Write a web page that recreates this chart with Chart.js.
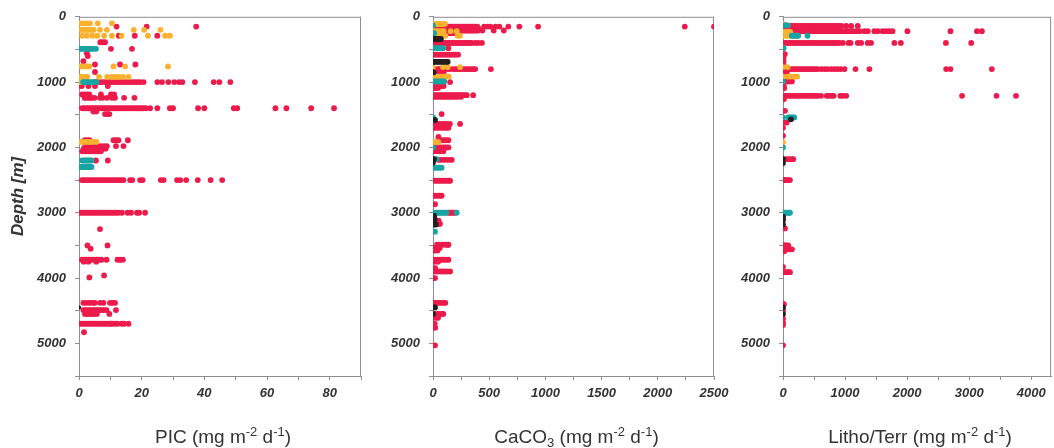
<!DOCTYPE html>
<html>
<head>
<meta charset="utf-8">
<title>Particle flux versus depth</title>
<script src="https://cdn.jsdelivr.net/npm/chart.js@4.4.1/dist/chart.umd.min.js"></script>
<style>
  html, body { margin: 0; padding: 0; background: #ffffff; }
  #wrap { position: relative; width: 1054px; height: 448px; overflow: hidden; }
  #wrap canvas { position: absolute; left: 0; top: 0; }
</style>
</head>
<body>
<div id="wrap">
  <canvas id="picChart" width="1054" height="448"></canvas>
  <canvas id="caco3Chart" width="1054" height="448"></canvas>
  <canvas id="lithoChart" width="1054" height="448"></canvas>
</div>
<script>
// ---- Rows of [depth (m), [flux values (mg m-2 d-1) measured at that depth]] ----

// PIC
const picRed = [
  [150, [12, 21.6, 37.4]],
  [290, [12.7, 17.8, 25]],
  [390, [6.8, 7.5, 8.3]],
  [490, [10.2, 16.9]],
  [560, [2.5]],
  [600, [2.8]],
  [680, [1.4]],
  [730, [5.1, 13.1, 18]],
  [845, [5.1]],
  [1000, [5, 5.8, 6.6, 7.4, 8.2, 9, 9.8, 10.6, 11.4, 12.2, 13, 13.8, 14.6, 15.4, 16.2, 17, 17.8, 18.6, 19.5, 20.6, 25, 26.5, 28.5, 30.4, 31.9, 33, 37, 43, 44.8, 48.3]],
  [1060, [0, 0.9, 3, 5.1, 9.2]],
  [1190, [1, 1.8, 2.6, 3.3, 7, 10.2, 11.2]],
  [1240, [1.8, 2.4, 3, 3.6, 4.2, 5, 6.7, 7.5, 8.9, 10.5, 11.5, 14.4, 17.7]],
  [1400, [0.9, 1.6, 2.3, 3, 3.7, 4.4, 5.1, 5.8, 6.5, 7.2, 7.9, 8.6, 9.3, 10, 10.7, 11.4, 12.1, 12.8, 13.5, 14.2, 14.9, 15.6, 16.3, 17, 17.7, 18.4, 19.1, 19.8, 20.5, 21.3, 22.7, 25, 29, 30, 38, 40, 49.4, 50.5, 62.7, 66.2, 74.1, 81.4]],
  [1450, [4.6, 5.5]],
  [1490, [8.3, 9, 9.7]],
  [1890, [1.8, 2.6, 3.4, 11, 11.8, 12.6, 15.6]],
  [1980, [2, 3, 4, 5, 6, 7, 8, 8.9, 11.8, 14.2]],
  [2020, [1.5, 2.5, 3.5, 4.5, 5.5, 6.5, 7.5, 8.5]],
  [2060, [1, 2, 3, 4, 5, 6, 7]],
  [2200, [5.4, 9.2]],
  [2500, [0.9, 1.6, 2.3, 3, 3.7, 4.4, 5.1, 5.8, 6.5, 7.2, 7.9, 8.6, 9.3, 10, 10.7, 11.4, 12.1, 12.8, 13.5, 14.2, 16.3, 17, 19.5, 20.3, 26.1, 27, 31.3, 32.3, 34.2, 37.9, 42, 45.7]],
  [3000, [0, 0.7, 1.4, 2.1, 2.8, 3.5, 4.2, 4.9, 5.6, 6.3, 7, 7.7, 8.4, 9.1, 9.8, 10.5, 11.2, 11.9, 12.6, 13.7, 15.5, 16.6, 18.5, 19.2, 21.1]],
  [3250, [6.7]],
  [3500, [2.7, 9.1]],
  [3550, [3.7]],
  [3720, [0.9, 1.6, 2.3, 3, 3.7, 4.4, 5.1, 5.8, 6.5, 7.2, 8.8, 12.3, 13.1, 14]],
  [3750, [1.5, 3, 5.5]],
  [3960, [8]],
  [3990, [3.3]],
  [4380, [1.4, 2.2, 3, 3.8, 4.6, 5.1, 6.7, 7.8, 9.9, 10.7, 11.5]],
  [4490, [1.4, 2, 2.6, 3.2, 3.8, 4.4, 5, 5.6, 6.2, 6.8, 7.4, 8, 8.8, 11.8]],
  [4550, [1.9, 2.5, 3.1, 3.8, 4.5, 5.1, 5.7, 9.7]],
  [4700, [0.3, 1, 1.7, 2.4, 3.1, 3.8, 4.5, 5.2, 5.9, 6.6, 7.3, 8, 8.7, 9.4, 10.1, 10.5, 11.5, 12.3, 13.6, 14.4, 15.8]],
  [4830, [1.6]]
];
const picOrange = [
  [100, [0.5, 1.5, 2.5, 3.5, 6, 10.5]],
  [200, [0.3, 0.9, 1.5, 2.1, 2.7, 3.3, 4, 4.7, 6.7, 8.9, 17.5, 20.8, 26]],
  [290, [1, 2.5, 4.2, 5.8, 8, 10.5, 13.6, 22, 27.5, 29]],
  [760, [0.6, 1.5, 2.5, 3.3, 11, 14.7, 28.4]],
  [920, [0.5, 1.2, 1.9, 2.6, 6.4, 9, 10.5, 11.5, 12.6, 14, 15.8]],
  [1000, [0, 0.6]],
  [1915, [0, 0.6, 1.2, 1.8, 2.4, 3, 3.6, 4.2, 4.8, 5.6]]
];
const picTeal = [
  [490, [0, 0.5, 1, 1.5, 2, 2.5, 3, 3.5, 4, 4.5, 5.4]],
  [1000, [1.3, 1.9, 2.5, 3.1, 3.7, 4.3, 4.9, 5.6]],
  [2200, [0.9, 1.5, 2, 2.5, 3, 3.5, 4]],
  [2300, [0, 0.5, 1, 1.5, 2, 2.5, 3, 3.5, 4]]
];
const picBlack = [
  [4450, [0]]
];

// CaCO3
const caco3Red = [
  [150, [20, 35, 50, 65, 80, 95, 110, 125, 140, 155, 170, 185, 200, 215, 230, 245, 260, 275, 290, 305, 320, 335, 350, 365, 380, 395, 455, 485, 510, 555, 590, 670, 768, 935, 2240, 2500]],
  [180, [15, 30, 45, 60, 75, 90, 105, 120, 135, 150, 165, 180, 195, 210, 225, 240, 255, 270, 285, 300, 315, 330, 345, 360, 375, 390, 405]],
  [210, [10, 25, 40, 55, 70, 85, 100, 115, 130, 145, 160, 175, 190, 205, 220, 235, 250, 265, 280, 295, 310, 325, 340, 355, 370, 385, 400, 440, 540, 630]],
  [250, [100, 120, 140, 160, 180]],
  [400, [0, 15, 30, 45, 60, 75, 90, 105, 120, 135, 150, 165, 180, 195, 210, 225, 240, 255, 270, 285, 300, 315, 330, 342, 375, 402, 435]],
  [480, [137]],
  [580, [0, 20, 40, 60, 80, 100, 120, 140, 160, 180, 200, 223]],
  [800, [20, 40, 60, 75, 100, 125, 150, 180, 200, 220, 240, 260, 280, 300, 320, 340, 360, 375, 515]],
  [850, [20, 45, 70, 95]],
  [1000, [152]],
  [1060, [0, 15, 30, 45, 60, 80, 95]],
  [1090, [5, 25, 45]],
  [1200, [0, 15, 30, 45, 60, 75, 90, 105, 120, 135, 150, 165, 180, 195, 210, 225, 240, 255, 270, 285, 300, 357]],
  [1225, [0, 20, 40, 60, 80, 100, 120, 140, 160, 180, 200, 220, 250]],
  [1490, [77]],
  [1640, [0, 20, 40, 60, 80, 100, 120, 150, 241]],
  [1700, [0, 20, 40, 60, 80, 100, 120, 137]],
  [1840, [48]],
  [1890, [48, 70, 95, 115, 137]],
  [2000, [18, 40, 60, 80, 100, 120, 137]],
  [2060, [0, 30, 60, 92]],
  [2190, [48, 70, 95, 120, 145, 167]],
  [2510, [0, 20, 40, 60, 80, 100, 120, 140, 152]],
  [2740, [0, 20, 40, 60, 77]],
  [2870, [18]],
  [3000, [0, 137, 150, 165, 180, 196]],
  [3120, [20, 35, 50]],
  [3170, [40, 55, 62]],
  [3490, [36, 60, 85, 110, 130, 137]],
  [3540, [0, 20, 40, 60]],
  [3580, [15, 40]],
  [3720, [18, 40, 60, 80, 100, 120, 137]],
  [3750, [5, 25, 45]],
  [3850, [0, 20]],
  [3900, [18, 45, 70, 95, 120, 152]],
  [4000, [0, 18]],
  [4380, [0, 20, 40, 60, 80, 95, 110]],
  [4550, [18, 40, 60, 80, 92]],
  [4610, [0, 25, 45]],
  [4700, [0, 15]],
  [4760, [5, 20]],
  [5030, [18]]
];
const caco3Orange = [
  [110, [0, 15, 30, 45, 60, 75, 90, 105]],
  [220, [0, 20, 40, 60, 80, 95, 158, 211]],
  [290, [30, 50, 70, 90, 110, 220, 240]],
  [770, [0, 89, 131, 241]],
  [915, [0, 15, 30, 45, 60, 75, 90, 105, 120, 140]],
  [1920, [0, 15, 30, 48]]
];
const caco3Teal = [
  [130, [0]],
  [250, [0, 10]],
  [480, [0, 15, 30, 45, 60, 75, 90]],
  [990, [0, 15, 30, 45, 60, 75, 90, 100]],
  [1540, [0]],
  [2000, [0]],
  [2180, [33]],
  [2310, [0, 15, 30, 45, 60, 77]],
  [3000, [15, 30, 45, 60, 75, 90, 105, 120, 211]],
  [3290, [18]]
];
const caco3Black = [
  [340, [0, 10, 20, 30, 40, 50, 62, 70]],
  [690, [0, 15, 30, 45, 60, 75, 90, 105, 120, 131]],
  [850, [0, 5]],
  [1580, [18]],
  [2180, [0, 8]],
  [2230, [0]],
  [3050, [0, 10]],
  [3100, [5, 15]],
  [3180, [10, 25]],
  [4450, [0, 18]],
  [4550, [0]]
];

// Litho/Terr
const lithoRed = [
  [140, [60, 95, 130, 165, 200, 235, 270, 305, 340, 375, 410, 445, 480, 515, 550, 585, 620, 655, 690, 725, 760, 795, 830, 865, 900, 939, 1019, 1099, 1205]],
  [180, [40, 75, 110, 145, 180, 215, 250, 285, 320, 355, 390, 425, 460, 495, 530, 565, 600, 635, 670, 705, 740, 775, 810, 850, 890]],
  [220, [30, 65, 100, 135, 170, 205, 240, 275, 310, 345, 380, 415, 450, 485, 520, 555, 590, 625, 660, 695, 730, 765, 800, 835, 870, 905, 940, 975, 1010, 1045, 1085, 1125, 1179, 1232, 1312, 1365, 1472, 1525, 1605, 1659, 1712, 1765, 2005, 2699, 3125, 3205]],
  [400, [0, 35, 70, 105, 140, 175, 210, 245, 280, 315, 350, 385, 420, 455, 490, 525, 560, 595, 630, 665, 700, 735, 770, 805, 840, 875, 910, 965, 1056, 1088, 1205, 1259, 1365, 1419, 1795, 1899, 2625, 3032]],
  [570, [0, 30]],
  [620, [10]],
  [680, [0, 10]],
  [720, [0]],
  [800, [0, 35, 70, 105, 140, 175, 210, 245, 280, 315, 350, 385, 420, 455, 490, 525, 560, 619, 672, 720, 780, 830, 880, 930, 992, 1168, 1392, 2629, 2699, 3365]],
  [860, [0, 20, 40, 60]],
  [990, [50, 80, 110, 144]],
  [1050, [10]],
  [1090, [0, 20]],
  [1210, [0, 35, 70, 105, 140, 175, 210, 245, 280, 315, 350, 385, 420, 455, 490, 525, 560, 613, 704, 740, 780, 816, 923, 965, 1019, 2885, 3440, 3755]],
  [1260, [0, 15]],
  [1440, [32]],
  [1620, [0, 30, 60]],
  [1700, [0]],
  [1820, [0]],
  [2180, [60, 100, 140, 165]],
  [2500, [0, 20, 40, 60, 80, 112]],
  [3090, [0]],
  [3240, [32]],
  [3500, [0, 20, 40, 60, 85]],
  [3560, [0, 30, 60, 90, 120, 144]],
  [3590, [0, 20]],
  [3830, [0]],
  [3910, [0, 30, 60, 90, 112]],
  [4400, [0, 15]],
  [4500, [0]],
  [4620, [0]],
  [4680, [0]],
  [4720, [0]],
  [5030, [0]]
];
const lithoOrange = [
  [110, [0]],
  [230, [0, 30, 60, 90, 117]],
  [290, [0, 40, 80, 120, 160, 200, 229]],
  [770, [0, 75]],
  [915, [0, 75, 110, 150, 190, 229]],
  [1920, [0]]
];
const lithoTeal = [
  [130, [30, 55, 80]],
  [290, [140, 180, 220, 245, 395]],
  [480, [0, 10]],
  [990, [0]],
  [1540, [0, 85, 110, 135, 160, 181]],
  [2000, [0]],
  [3000, [0, 25, 50, 75, 100, 112]]
];
const lithoBlack = [
  [1570, [128]],
  [2175, [0]],
  [2240, [0]],
  [3060, [0]],
  [3110, [0]],
  [3180, [0]],
  [4450, [0]],
  [4550, [0]]
];

// ---- Axis ticks ----
const depthTicks = [0, 500, 1000, 1500, 2000, 2500, 3000, 3500, 4000, 4500, 5000, 5500];
const depthLabels = [0, 1000, 2000, 3000, 4000, 5000];
const picTicks = [0, 10, 20, 30, 40, 50, 60, 70, 80, 90];
const picLabels = [0, 20, 40, 60, 80];
const caco3Ticks = [0, 250, 500, 750, 1000, 1250, 1500, 1750, 2000, 2250, 2500];
const caco3Labels = [0, 500, 1000, 1500, 2000, 2500];
const lithoTicks = [0, 500, 1000, 1500, 2000, 2500, 3000, 3500, 4000];
const lithoLabels = [0, 1000, 2000, 3000, 4000];

// ---- Styling ----
const COLORS = { red: '#ec1b4b', orange: '#fbb12f', teal: '#18a4a2', black: '#231f20' };
const AXIS_GREY = '#8e8e8e';
const TEXT = '#333333';
const SANS = '"Liberation Sans", Arial, Helvetica, sans-serif';
const tickFont = { family: SANS, size: 13, weight: 'bold', style: 'italic' };
const DOT = 2.9;

function toPoints(rows) {
  const pts = [];
  rows.forEach(([depth, values]) => values.forEach(v => pts.push({ x: v, y: depth })));
  return pts;
}

// Draws the top/right frame lines and the x-axis title (with super/subscripts)
const framePlugin = {
  id: 'frame',
  beforeDatasetsDraw(chart) {
    const { ctx, chartArea: { left, top, right, bottom } } = chart;
    ctx.save();
    ctx.strokeStyle = AXIS_GREY;
    ctx.lineWidth = 1;
    ctx.beginPath();
    ctx.moveTo(left, top + 0.5);
    ctx.lineTo(right, top + 0.5);
    ctx.moveTo(right - 0.5, top);
    ctx.lineTo(right - 0.5, bottom);
    ctx.stroke();
    ctx.restore();
  },
  afterDraw(chart, args, opts) {
    if (!opts.segments) return;
    const { ctx, chartArea: { left, right } } = chart;
    const fontFor = kind => (kind ? '13px ' : '19px ') + SANS;
    ctx.save();
    ctx.fillStyle = TEXT;
    ctx.textBaseline = 'alphabetic';
    ctx.textAlign = 'left';
    let total = 0;
    opts.segments.forEach(([txt, kind]) => { ctx.font = fontFor(kind); total += ctx.measureText(txt).width; });
    let x = (left + right) / 2 + (opts.shift || 0) - total / 2;
    const base = 443;
    opts.segments.forEach(([txt, kind]) => {
      ctx.font = fontFor(kind);
      const dy = kind === 'sup' ? -7 : kind === 'sub' ? 4 : 0;
      ctx.fillText(txt, x, base + dy);
      x += ctx.measureText(txt).width;
    });
    ctx.restore();
  }
};

function makeScatter(canvasId, cfg) {
  const ds = (rows, color, r) => ({
    data: toPoints(rows),
    backgroundColor: color,
    borderWidth: 0,
    pointRadius: r,
    pointHoverRadius: r
  });
  return new Chart(document.getElementById(canvasId), {
    type: 'scatter',
    data: {
      // first dataset is painted last (on top)
      datasets: [
        ds(cfg.black, COLORS.black, cfg.blackRadius || DOT),
        ds(cfg.teal, COLORS.teal, DOT),
        ds(cfg.orange, COLORS.orange, DOT),
        ds(cfg.red, COLORS.red, DOT)
      ]
    },
    options: {
      responsive: false,
      animation: false,
      devicePixelRatio: 1,
      layout: { padding: { left: cfg.padLeft, right: cfg.padRight, top: 15, bottom: 0 } },
      plugins: {
        legend: { display: false },
        tooltip: { enabled: false },
        frame: { segments: cfg.title, shift: 3 }
      },
      scales: {
        x: {
          type: 'linear',
          position: 'bottom',
          min: 0,
          max: cfg.xMax,
          afterBuildTicks: s => { s.ticks = cfg.xTicks.map(v => ({ value: v })); },
          afterFit: s => { s.height = 72; },
          grid: { drawOnChartArea: false, drawTicks: true, tickLength: 4, color: AXIS_GREY },
          border: { display: true, color: AXIS_GREY, width: 1 },
          ticks: {
            autoSkip: false,
            maxRotation: 0,
            padding: 6,
            color: TEXT,
            font: tickFont,
            callback: v => (cfg.xLabels.includes(v) ? String(v) : '')
          }
        },
        y: {
          type: 'linear',
          position: 'left',
          reverse: true,
          min: 0,
          max: 5500,
          afterBuildTicks: s => { s.ticks = depthTicks.map(v => ({ value: v })); },
          afterFit: s => { s.width = cfg.yWidth; },
          grid: { drawOnChartArea: false, drawTicks: true, tickLength: 4, color: AXIS_GREY },
          border: { display: true, color: AXIS_GREY, width: 1 },
          ticks: {
            autoSkip: false,
            padding: 9,
            color: TEXT,
            font: tickFont,
            callback: v => (depthLabels.includes(v) ? String(v) : '')
          },
          title: {
            display: !!cfg.yTitle,
            text: cfg.yTitle || '',
            color: TEXT,
            font: { family: SANS, size: 17, weight: 'bold', style: 'italic' },
            padding: { top: 8, bottom: 0 }
          }
        }
      }
    },
    plugins: [framePlugin]
  });
}

makeScatter('picChart', {
  red: picRed, orange: picOrange, teal: picTeal, black: picBlack, blackRadius: 2.2,
  xMax: 90, xTicks: picTicks, xLabels: picLabels,
  padLeft: 0, padRight: 1054 - 361, yWidth: 79,
  yTitle: 'Depth [m]',
  title: [['PIC (mg m', ''], ['-2', 'sup'], [' d', ''], ['-1', 'sup'], [')', '']]
});

makeScatter('caco3Chart', {
  red: caco3Red, orange: caco3Orange, teal: caco3Teal, black: caco3Black,
  xMax: 2500, xTicks: caco3Ticks, xLabels: caco3Labels,
  padLeft: 366, padRight: 1054 - 714, yWidth: 67,
  title: [['CaCO', ''], ['3', 'sub'], [' (mg m', ''], ['-2', 'sup'], [' d', ''], ['-1', 'sup'], [')', '']]
});

makeScatter('lithoChart', {
  red: lithoRed, orange: lithoOrange, teal: lithoTeal, black: lithoBlack,
  xMax: 4320, xTicks: lithoTicks, xLabels: lithoLabels,
  padLeft: 716, padRight: 0, yWidth: 67,
  title: [['Litho/Terr (mg m', ''], ['-2', 'sup'], [' d', ''], ['-1', 'sup'], [')', '']]
});
</script>
</body>
</html>
